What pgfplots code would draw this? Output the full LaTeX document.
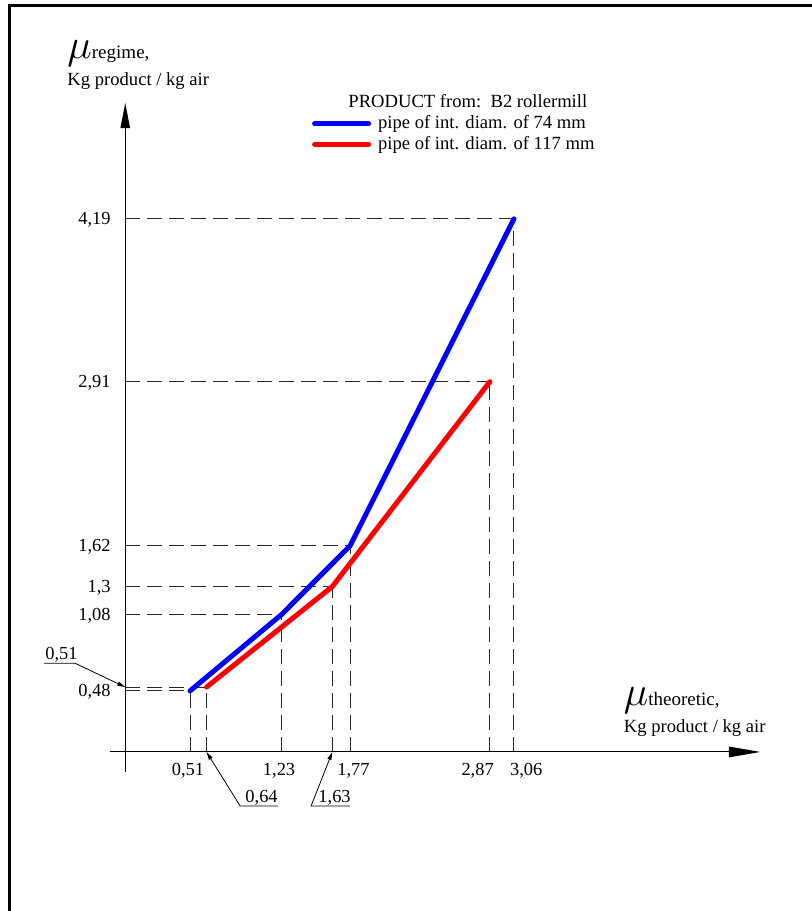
\documentclass[border=0pt]{standalone}
\usepackage{pgfplots}
\pgfplotsset{compat=1.18}
\usepackage{fontspec}
\setmainfont{Liberation Serif}
\usetikzlibrary{arrows.meta}
\begin{document}
\begin{tikzpicture}
\begin{axis}[
  x=63.5pt, y=63.6pt,
  xmin=-0.986, xmax=5.40, ymin=-1.25, ymax=5.91,
  hide axis, clip=false, enlargelimits=false,
  legend style={at={(axis cs:1.471,5.008)}, anchor=north west, draw=none, fill=none,
    inner sep=0pt, outer sep=0pt, column sep=3.5pt, row sep=1.15pt,
    nodes={inner sep=0pt, text height=7pt, text depth=2pt, font=\fontsize{9.3}{11}\selectfont}},
  legend cell align=left,
  reverse legend,
  legend image code/.code={\draw[#1] (0pt,0pt) -- (27pt,0pt);},
]
% frame
\draw[line width=1.35pt] (axis cs:-0.909,-1.4) -- (axis cs:-0.909,5.865) -- (axis cs:5.5,5.865);

% dashed guide lines
\begin{scope}[dash pattern=on 7.5pt off 3.5pt, line width=0.5pt, black!85]
\draw (axis cs:0,4.19) -- (axis cs:3.06,4.19);
\draw (axis cs:3.06,0) -- (axis cs:3.06,4.19);
\draw (axis cs:0,2.91) -- (axis cs:2.87,2.91);
\draw (axis cs:2.87,0) -- (axis cs:2.87,2.91);
\draw (axis cs:0,1.62) -- (axis cs:1.77,1.62);
\draw (axis cs:1.77,0) -- (axis cs:1.77,1.62);
\draw (axis cs:0,1.30) -- (axis cs:1.63,1.30);
\draw (axis cs:1.63,0) -- (axis cs:1.63,1.30);
\draw (axis cs:0,1.08) -- (axis cs:1.23,1.08);
\draw (axis cs:1.23,0) -- (axis cs:1.23,1.08);
\draw (axis cs:0,0.48) -- (axis cs:0.51,0.48);
\draw (axis cs:0.51,0) -- (axis cs:0.51,0.48);
\draw (axis cs:0,0.51) -- (axis cs:0.64,0.51);
\draw (axis cs:0.64,0) -- (axis cs:0.64,0.51);
\end{scope}

% data
\addplot[red, line width=2.5pt, line cap=round, line join=round] coordinates {(0.64,0.51) (1.63,1.30) (2.87,2.91)};
\addlegendentry{pipe of int. diam. of 117 mm}
\addplot[blue, line width=2.5pt, line cap=round, line join=round] coordinates {(0.51,0.48) (1.23,1.08) (1.77,1.62) (3.06,4.19)};
\addlegendentry{pipe of int. diam. of 74 mm}

% axes
\draw[line width=0.5pt, -{Triangle[length=12.5pt,width=4.7pt]}] (axis cs:0,-0.157) -- (axis cs:0,5.10);
\draw[line width=0.5pt, -{Triangle[length=15.8pt,width=5.3pt]}] (axis cs:-0.12,0) -- (axis cs:5.0,0);

% y tick labels
\begin{scope}[every node/.style={inner sep=0pt, font=\fontsize{9.2}{11}\selectfont, anchor=base east, yshift=-3pt}]
\node at (axis cs:-0.112,4.19) {4,19};
\node at (axis cs:-0.112,2.91) {2,91};
\node at (axis cs:-0.112,1.62) {1,62};
\node at (axis cs:-0.112,1.30) {1,3};
\node at (axis cs:-0.112,1.08) {1,08};
\node at (axis cs:-0.112,0.48) {0,48};
\end{scope}
% x tick labels
\begin{scope}[every node/.style={inner sep=0pt, font=\fontsize{9.2}{11}\selectfont, anchor=base}]
\node at (axis cs:0.494,-0.187) {0,51};
\node at (axis cs:1.211,-0.187) {1,23};
\node at (axis cs:1.796,-0.187) {1,77};
\node at (axis cs:2.774,-0.187) {2,87};
\node at (axis cs:3.156,-0.187) {3,06};
\end{scope}

% call-outs
\begin{scope}[line width=0.4pt, every node/.style={inner sep=0pt, font=\fontsize{9.2}{11}\selectfont, anchor=base west}]
\draw[-{Triangle[length=4pt,width=2pt]}] (axis cs:1.203,-0.4245) -- (axis cs:0.904,-0.4245) -- (axis cs:0.64,0);
\node at (axis cs:0.943,-0.401) {0,64};
\draw[-{Triangle[length=4pt,width=2pt]}] (axis cs:1.770,-0.4245) -- (axis cs:1.463,-0.4245) -- (axis cs:1.63,0);
\node at (axis cs:1.518,-0.401) {1,63};
\draw[-{Triangle[length=4pt,width=2pt]}] (axis cs:-0.639,0.697) -- (axis cs:-0.395,0.697) -- (axis cs:0,0.51);
\node at (axis cs:-0.632,0.723) {0,51};
\end{scope}

% axis titles
\begin{scope}[every node/.style={inner sep=0pt, anchor=base west}]
\node at (axis cs:-0.458,5.448) {{\fontsize{20}{20}\selectfont$\mu$}\fontsize{9.5}{11}\selectfont regime,};
\node[font=\fontsize{9.3}{11}\selectfont] at (axis cs:-0.458,5.236) {Kg product / kg air};
\node at (axis cs:3.922,0.369) {{\fontsize{20}{20}\selectfont$\mu$}\fontsize{9.5}{11}\selectfont theoretic,};
\node[font=\fontsize{9.3}{11}\selectfont] at (axis cs:3.922,0.152) {Kg product / kg air};
\node[font=\fontsize{9.3}{11}\selectfont] at (axis cs:1.754,5.063) {PRODUCT from:\ \ B2 rollermill};
\end{scope}
\end{axis}
\pgfresetboundingbox
\path[use as bounding box] (current axis.south west) rectangle (current axis.north east);
\end{tikzpicture}
\end{document}
